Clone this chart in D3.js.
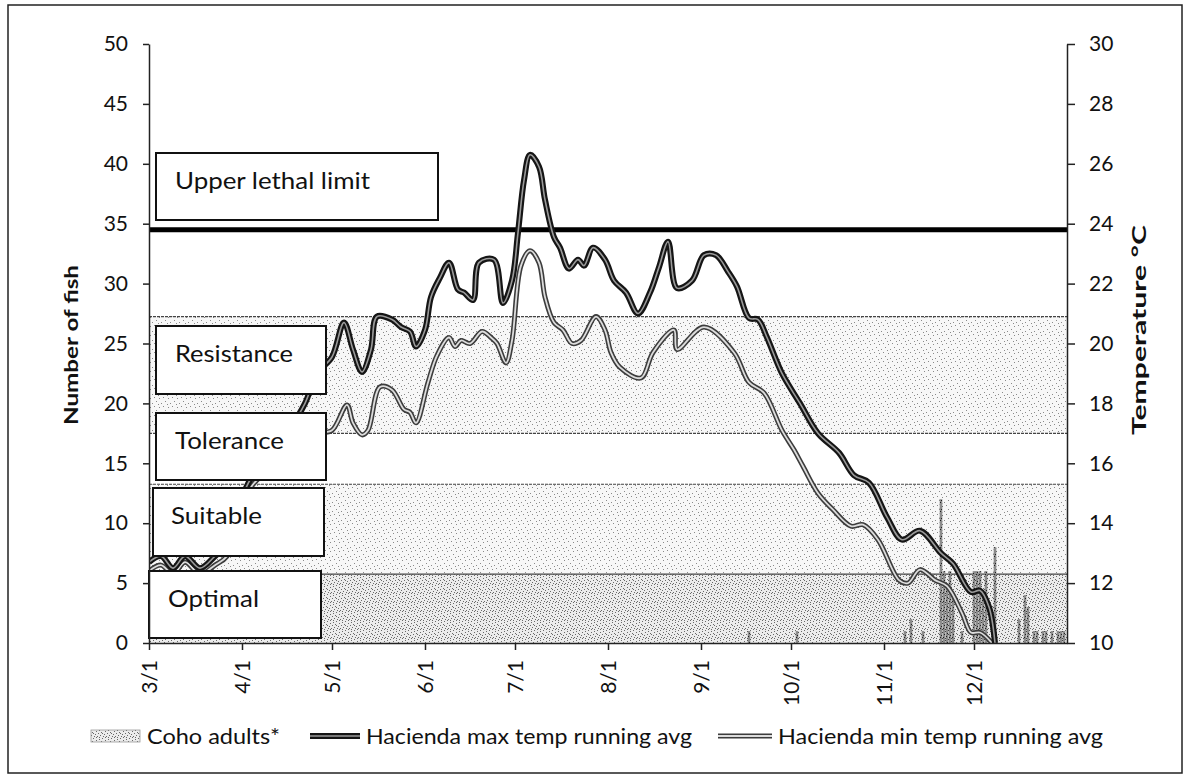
<!DOCTYPE html>
<html>
<head>
<meta charset="utf-8">
<script src="https://cdn.jsdelivr.net/npm/d3@7"></script>
<style>
  body { margin: 0; background: #fff; }
  text { font-family: Lato, "Open Sans", sans-serif; fill: #111; }
</style>
</head>
<body>
<div id="chart"></div>
<script>
// days are counted from 3/1
var seasonStart = new Date(2013, 2, 1);
var seasonEnd = new Date(2014, 0, 1);
var monthTicks = ["3/1", "4/1", "5/1", "6/1", "7/1", "8/1", "9/1", "10/1", "11/1", "12/1"];

// Hacienda max temp running avg (°C)
var maxDays = [0,4,8,12,17,22,26,30,34,40,46,52,56,61,65,68,71,74,76,81,84,87,89,92,94,97,100,103,105,108,110,115,118,121,123,125,127,130,132,135,137,140,143,145,148,152,155,159,163,167,170,173,176,181,185,189,193,196,200,203,206,211,217,223,230,235,240,246,251,257,264,268,274,277,280,282];
var maxTemp = [12.7,12.9,12.5,12.9,12.5,12.9,13.3,14.6,15.5,16.2,17.0,18.0,19.0,19.55,20.7,19.8,19.05,19.8,20.9,20.8,20.55,20.4,19.9,20.45,21.55,22.2,22.7,21.8,21.7,21.45,22.7,22.8,21.35,22.1,23.7,25.45,26.3,25.9,24.8,23.55,23.2,22.5,22.8,22.6,23.2,22.8,22.1,21.7,21.0,21.7,22.55,23.4,21.85,22.1,22.95,22.95,22.4,21.9,20.85,20.8,20.2,19.0,18.0,17.0,16.35,15.6,15.35,14.2,13.45,13.75,13.0,12.65,11.7,11.75,11.2,10.0];

// Hacienda min temp running avg (°C)
var minDays = [0,4,8,12,17,22,26,30,34,40,46,52,56,61,66,68,71,73,77,81,85,87,89,93,96,100,102,104,107,111,114,116,119,121,124,127,130,132,135,138,141,144,149,152,154,157,164,168,175,176,185,195,200,205,211,215,218,223,228,234,238,243,250,253,257,262,266,271,274,277,281];
var minTemp = [12.4,12.6,12.3,12.7,12.3,12.6,12.9,14.0,15.2,15.8,16.3,16.8,17.0,17.1,17.95,17.35,16.95,17.1,18.55,18.45,17.8,17.7,17.35,18.7,19.6,20.2,19.9,20.1,20.0,20.4,20.2,20.0,19.35,20.1,22.6,23.1,22.7,21.55,20.7,20.45,20.0,20.1,20.9,20.45,19.7,19.2,18.85,19.7,20.45,19.8,20.55,19.7,18.7,18.35,17.1,16.45,15.9,15.0,14.45,13.9,13.95,13.45,12.1,12.0,12.45,12.1,11.9,11.0,10.35,10.35,10.0];

// Coho adults (number of fish)
var cohoDays = [200,216,252,254,258,264,265,266,267,268,271,275,276,277,278,279,282,290,292,293,295,296,298,299,301,303,304,305];
var cohoCount = [1,1,1,2,1,12,6,5,6,4,1,6,6,6,4,6,8,2,4,3,1,1,1,1,1,1,1,1];

// temperature zones (°C)
var zoneNames = ["Optimal", "Suitable", "Tolerance", "Resistance"];
var zoneLow = [10, 12.3, 15.3, 17.0];
var zoneHigh = [12.3, 15.3, 17.0, 20.9];
var lethalTemp = 23.8;

var width = 1185, height = 775;
var plotLeft = 149, plotRight = 1067, plotTop = 44, plotBottom = 643;

function dayDate(d) { return new Date(seasonStart.getTime() + d * 864e5); }

var svg = d3.select("#chart").append("svg")
  .attr("width", width)
  .attr("height", height);

var x = d3.scaleTime().domain([seasonStart, seasonEnd]).range([plotLeft, plotRight]);
var yFish = d3.scaleLinear().domain([0, 50]).range([plotBottom, plotTop]);
var yTemp = d3.scaleLinear().domain([10, 30]).range([plotBottom, plotTop]);

// stipple patterns
var defs = svg.append("defs");
function stipple(id, bg, dot, pts) {
  var p = defs.append("pattern").attr("id", id)
    .attr("width", 9).attr("height", 9).attr("patternUnits", "userSpaceOnUse");
  p.append("rect").attr("width", 9).attr("height", 9).attr("fill", bg);
  pts.forEach(function(q) {
    p.append("rect").attr("x", q[0]).attr("y", q[1]).attr("width", 1).attr("height", 1).attr("fill", dot);
  });
}
var densePts = [[0,1],[3,0],[6,2],[2,3],[8,4],[5,5],[1,6],[4,7],[7,7],[3,4],[6,8],[0,8]];
var sparsePts = [[1,1],[6,2],[3,5],[8,7],[5,8]];
stipple("dense", "#ececec", "#6a6a6a", densePts);
stipple("sparse", "#f7f7f7", "#8a8a8a", sparsePts);
stipple("coho", "#8c8c8c", "#222", densePts);

svg.append("clipPath").attr("id", "plotClip")
  .append("rect").attr("x", plotLeft).attr("y", plotTop)
  .attr("width", plotRight - plotLeft).attr("height", plotBottom - plotTop);

// outer frame
svg.append("rect")
  .attr("x", 8).attr("y", 5).attr("width", 1174).attr("height", 768)
  .attr("fill", "none").attr("stroke", "#222").attr("stroke-width", 1.5);

// zone bands
var bandFill = ["url(#dense)", "url(#sparse)", "#fff", "url(#sparse)"];
svg.append("g").selectAll("rect")
  .data(zoneNames).enter()
  .append("rect")
  .attr("x", plotLeft)
  .attr("y", function(d, i) { return yTemp(zoneHigh[i]); })
  .attr("width", plotRight - plotLeft)
  .attr("height", function(d, i) { return yTemp(zoneLow[i]) - yTemp(zoneHigh[i]); })
  .attr("fill", function(d, i) { return bandFill[i]; });

svg.append("g").selectAll("line")
  .data(zoneHigh).enter()
  .append("line")
  .attr("x1", plotLeft).attr("x2", plotRight)
  .attr("y1", function(d) { return yTemp(d); })
  .attr("y2", function(d) { return yTemp(d); })
  .attr("stroke", "#444")
  .attr("stroke-width", 1.2)
  .attr("stroke-dasharray", function(d, i) { return i == 0 ? null : "3,1"; });

// coho bars
svg.append("g").selectAll("rect")
  .data(cohoDays).enter()
  .append("rect")
  .attr("x", function(d) { return x(dayDate(d)) - 1.3; })
  .attr("y", function(d, i) { return yFish(cohoCount[i]); })
  .attr("width", 2.6)
  .attr("height", function(d, i) { return yFish(0) - yFish(cohoCount[i]); })
  .attr("fill", "url(#coho)");

// upper lethal limit
svg.append("line")
  .attr("x1", plotLeft).attr("x2", plotRight)
  .attr("y1", yTemp(lethalTemp)).attr("y2", yTemp(lethalTemp))
  .attr("stroke", "#000").attr("stroke-width", 5);

// temperature lines, drawn as double strokes
var line = d3.line()
  .x(function(d) { return x(dayDate(d[0])); })
  .y(function(d) { return yTemp(d[1]); })
  .curve(d3.curveCatmullRom.alpha(0.5));

var maxPts = maxDays.map(function(d, i) { return [d, maxTemp[i]]; });
var minPts = minDays.map(function(d, i) { return [d, minTemp[i]]; });
var lines = svg.append("g").attr("clip-path", "url(#plotClip)");

lines.append("path").attr("d", line(minPts))
  .attr("fill", "none").attr("stroke", "#3c3c3c").attr("stroke-width", 5);
lines.append("path").attr("d", line(minPts))
  .attr("fill", "none").attr("stroke", "#dcdcdc").attr("stroke-width", 1.8);
lines.append("path").attr("d", line(maxPts))
  .attr("fill", "none").attr("stroke", "#151515").attr("stroke-width", 6);
lines.append("path").attr("d", line(maxPts))
  .attr("fill", "none").attr("stroke", "#9a9a9a").attr("stroke-width", 1.6);

// zone label boxes
var boxes = [
  {t: "Upper lethal limit", x: 156, y: 153, w: 282, h: 67, tx: 175, tw: 195},
  {t: "Resistance", x: 156, y: 326, w: 170, h: 68, tx: 175, tw: 118},
  {t: "Tolerance", x: 156, y: 413, w: 170, h: 67, tx: 175, tw: 109},
  {t: "Suitable", x: 153, y: 488, w: 171, h: 68, tx: 171, tw: 91},
  {t: "Optimal", x: 149, y: 571, w: 172, h: 67, tx: 168, tw: 91}
];
var box = svg.append("g").selectAll("g").data(boxes).enter().append("g");
box.append("rect")
  .attr("x", function(d) { return d.x; })
  .attr("y", function(d) { return d.y; })
  .attr("width", function(d) { return d.w; })
  .attr("height", function(d) { return d.h; })
  .attr("fill", "#fff").attr("stroke", "#111").attr("stroke-width", 2);
box.append("text")
  .attr("x", function(d) { return d.tx; })
  .attr("y", function(d) { return d.y + 36; })
  .attr("textLength", function(d) { return d.tw; })
  .attr("lengthAdjust", "spacingAndGlyphs")
  .style("font-size", "23px")
  .text(function(d) { return d.t; });

// axes
var leftAxis = svg.append("g")
  .attr("transform", "translate(" + plotLeft + ",0)")
  .call(d3.axisLeft(yFish).tickValues(d3.range(0, 51, 5)).tickSize(6).tickSizeOuter(0).tickPadding(15));
var rightAxis = svg.append("g")
  .attr("transform", "translate(" + plotRight + ",0)")
  .call(d3.axisRight(yTemp).tickValues(d3.range(10, 31, 2)).tickSize(8).tickSizeOuter(0).tickPadding(14));
var monthDates = monthTicks.map(function(s) {
  var p = s.split("/");
  return new Date(2013, +p[0] - 1, +p[1]);
});
var bottomAxis = svg.append("g")
  .attr("transform", "translate(0," + plotBottom + ")")
  .call(d3.axisBottom(x).tickValues(monthDates).tickSize(7).tickSizeOuter(0)
    .tickFormat(function(d, i) { return monthTicks[i]; }));

[leftAxis, rightAxis, bottomAxis].forEach(function(a) {
  a.selectAll("path, line").attr("stroke", "#222").attr("stroke-width", 1.5);
  a.selectAll("text").style("font-family", "Lato, sans-serif").style("font-size", "21px").attr("fill", "#111");
});
bottomAxis.selectAll("text")
  .attr("transform", "rotate(-90)")
  .attr("x", -17).attr("y", 0).attr("dy", "0.36em")
  .style("text-anchor", "end");

// axis titles
svg.append("text")
  .attr("transform", "translate(78,345) rotate(-90)")
  .attr("text-anchor", "middle")
  .attr("textLength", 160).attr("lengthAdjust", "spacingAndGlyphs")
  .style("font-size", "19px").style("font-weight", "bold")
  .text("Number of fish");
svg.append("text")
  .attr("transform", "translate(1146,330) rotate(-90)")
  .attr("text-anchor", "middle")
  .attr("textLength", 210).attr("lengthAdjust", "spacingAndGlyphs")
  .style("font-size", "19px").style("font-weight", "bold")
  .text("Temperature °C");

// legend
var leg = svg.append("g");
leg.append("rect").attr("x", 91).attr("y", 730).attr("width", 49).attr("height", 12)
  .attr("fill", "url(#dense)").attr("stroke", "#999").attr("stroke-width", 0.8);
leg.append("text").attr("x", 147).attr("y", 744)
  .attr("textLength", 133).attr("lengthAdjust", "spacingAndGlyphs")
  .style("font-size", "21px").text("Coho adults*");

leg.append("line").attr("x1", 310).attr("x2", 360).attr("y1", 736).attr("y2", 736)
  .attr("stroke", "#151515").attr("stroke-width", 6);
leg.append("line").attr("x1", 310).attr("x2", 360).attr("y1", 736).attr("y2", 736)
  .attr("stroke", "#9a9a9a").attr("stroke-width", 1.6);
leg.append("text").attr("x", 366).attr("y", 744)
  .attr("textLength", 326).attr("lengthAdjust", "spacingAndGlyphs")
  .style("font-size", "21px").text("Hacienda max temp running avg");

leg.append("line").attr("x1", 718).attr("x2", 772).attr("y1", 736).attr("y2", 736)
  .attr("stroke", "#3c3c3c").attr("stroke-width", 5);
leg.append("line").attr("x1", 718).attr("x2", 772).attr("y1", 736).attr("y2", 736)
  .attr("stroke", "#dcdcdc").attr("stroke-width", 1.8);
leg.append("text").attr("x", 778).attr("y", 744)
  .attr("textLength", 325).attr("lengthAdjust", "spacingAndGlyphs")
  .style("font-size", "21px").text("Hacienda min temp running avg");
</script>
</body>
</html>
